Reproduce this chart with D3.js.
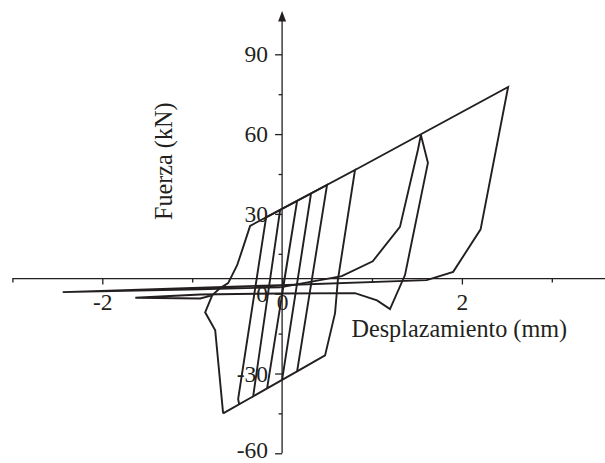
<!DOCTYPE html>
<html>
<head>
<meta charset="utf-8">
<script src="https://cdn.jsdelivr.net/npm/d3@7"></script>
<style>
  html, body { margin: 0; padding: 0; background: #fff; }
  svg text { font-family: "Liberation Serif", "Times New Roman", serif; fill: #231f20; }
</style>
</head>
<body>
<svg id="chart" width="605" height="463"></svg>
<script>
// Axis ticks
const xMajorTicks = [-2, 0, 2];
const xMinorTicks = [-3, -1, 1, 3];
const yMajorTicks = [-60, -30, 0, 30, 60, 90];
const yMinorTicks = [-45, -15, 15, 45, 75];

// Force level (kN) where the horizontal axis is drawn
const xAxisForce = 5.7;

// Hysteresis branches, points as [displacement (mm), force (kN)]
const smallCycles = [
  [0, 0], [0.167, 34.9], [-0.167, -35.6], [-0.322, -38.6], [-0.022, 31.5],
  [0.322, 37.7], [0, -32.4], [-0.478, -41.6], [-0.489, -39.6], [-0.178, 28.7],
  [0.5, 40.9], [0.167, -29.2], [-0.656, -45.0]
];
const negativeExcursion = [
  [-0.656, -45.0], [-0.744, -13.8], [-0.856, -7.0], [-0.778, -0.6],
  [-0.689, 2.1], [-0.6, 4.0], [-0.5, 10.7], [-0.433, 17.5], [-0.356, 25.5],
  [0.811, 46.5], [0.62, 5.1], [0.589, -7.3], [0.478, -23.2], [0.167, -29.2]
];
const cycle60 = [
  [-0.022, 2.4], [0.664, 6.6], [1.008, 12.2], [1.311, 25.1], [1.511, 54.1],
  [1.544, 59.7], [1.622, 49.2], [1.367, 7.0], [1.2, -5.8], [1.056, -2.5],
  [0.811, 0.2], [-0.022, 0.1], [-0.911, -0.3], [-1.633, -1.5],
  [-0.911, -1.8], [-0.778, -0.6]
];
const cycle78 = [
  [0.811, 46.5], [2.514, 77.7], [2.208, 24.2], [1.903, 8.2], [1.608, 5.1],
  [-0.022, 3.2], [-0.911, 2.3], [-2.44, 0.6], [-0.911, 1.7], [-0.022, 2.4]
];
const branches = [smallCycles, negativeExcursion, cycle60, cycle78];

const svg = d3.select("#chart");
const x = d3.scaleLinear().domain([-3, 3]).range([12.4, 551.8]);
const y = d3.scaleLinear().domain([-60, 90]).range([453.3, 54.3]);

const ink = "#231f20";
const tickFont = 23.5;
const titleFont = 24.2;
const x0 = x(0);
const yAxisPos = y(xAxisForce);

// Curves
const line = d3.line().x(d => x(d[0])).y(d => y(d[1]));
svg.append("g").selectAll("path").data(branches).join("path")
  .attr("d", line)
  .attr("fill", "none")
  .attr("stroke", ink)
  .attr("stroke-width", 1.9)
  .attr("stroke-linejoin", "miter");

// Horizontal axis
const xAxisG = svg.append("g").attr("transform", `translate(0,${yAxisPos})`);
xAxisG.append("line")
  .attr("x1", x(-3)).attr("x2", 605).attr("y1", 0).attr("y2", 0)
  .attr("stroke", ink).attr("stroke-width", 1.3);
xAxisG.append("g")
  .call(d3.axisBottom(x).tickValues(xMinorTicks).tickSize(4).tickFormat(""))
  .call(g => g.select(".domain").remove())
  .call(g => g.selectAll("line").attr("stroke", ink).attr("stroke-width", 1.3));
xAxisG.append("g")
  .call(d3.axisBottom(x).tickValues(xMajorTicks).tickSize(6).tickFormat(d3.format("d")))
  .call(g => g.select(".domain").remove())
  .call(g => g.selectAll("line").attr("stroke", ink).attr("stroke-width", 1.3))
  .call(g => g.selectAll("text")
    .attr("y", 310.5 - yAxisPos).attr("dy", null)
    .attr("font-size", tickFont).attr("font-family", null)
    .text(d => d < 0 ? "-" + Math.abs(d) : d));

// Vertical axis
const yAxisG = svg.append("g").attr("transform", `translate(${x0},0)`);
yAxisG.append("line")
  .attr("x1", 0).attr("x2", 0).attr("y1", y(-60)).attr("y2", 20)
  .attr("stroke", ink).attr("stroke-width", 1.3);
yAxisG.append("path")
  .attr("d", "M0,11 L-4,21.5 L4,21.5 Z")
  .attr("fill", ink);
yAxisG.append("g")
  .call(d3.axisLeft(y).tickValues(yMinorTicks).tickSize(3.5).tickFormat(""))
  .call(g => g.select(".domain").remove())
  .call(g => g.selectAll("line").attr("stroke", ink).attr("stroke-width", 1.3));
yAxisG.append("g")
  .call(d3.axisLeft(y).tickValues(yMajorTicks).tickSize(7).tickPadding(7))
  .call(g => g.select(".domain").remove())
  .call(g => g.selectAll("line").attr("stroke", ink).attr("stroke-width", 1.3))
  .call(g => g.selectAll("text")
    .attr("font-size", tickFont).attr("font-family", null)
    // lowest label sits a little higher so it stays inside the frame
    .attr("dy", d => d === -60 ? "0.19em" : "0.32em")
    .text(d => d < 0 ? "-" + Math.abs(d) : d));

// Axis titles
svg.append("text")
  .attr("x", 351.5).attr("y", 336.5)
  .attr("font-size", titleFont)
  .text("Desplazamiento (mm)");
svg.append("text")
  .attr("transform", `translate(172,220) rotate(-90)`)
  .attr("text-anchor", "start")
  .attr("font-size", titleFont)
  .text("Fuerza (kN)");
</script>
</body>
</html>
